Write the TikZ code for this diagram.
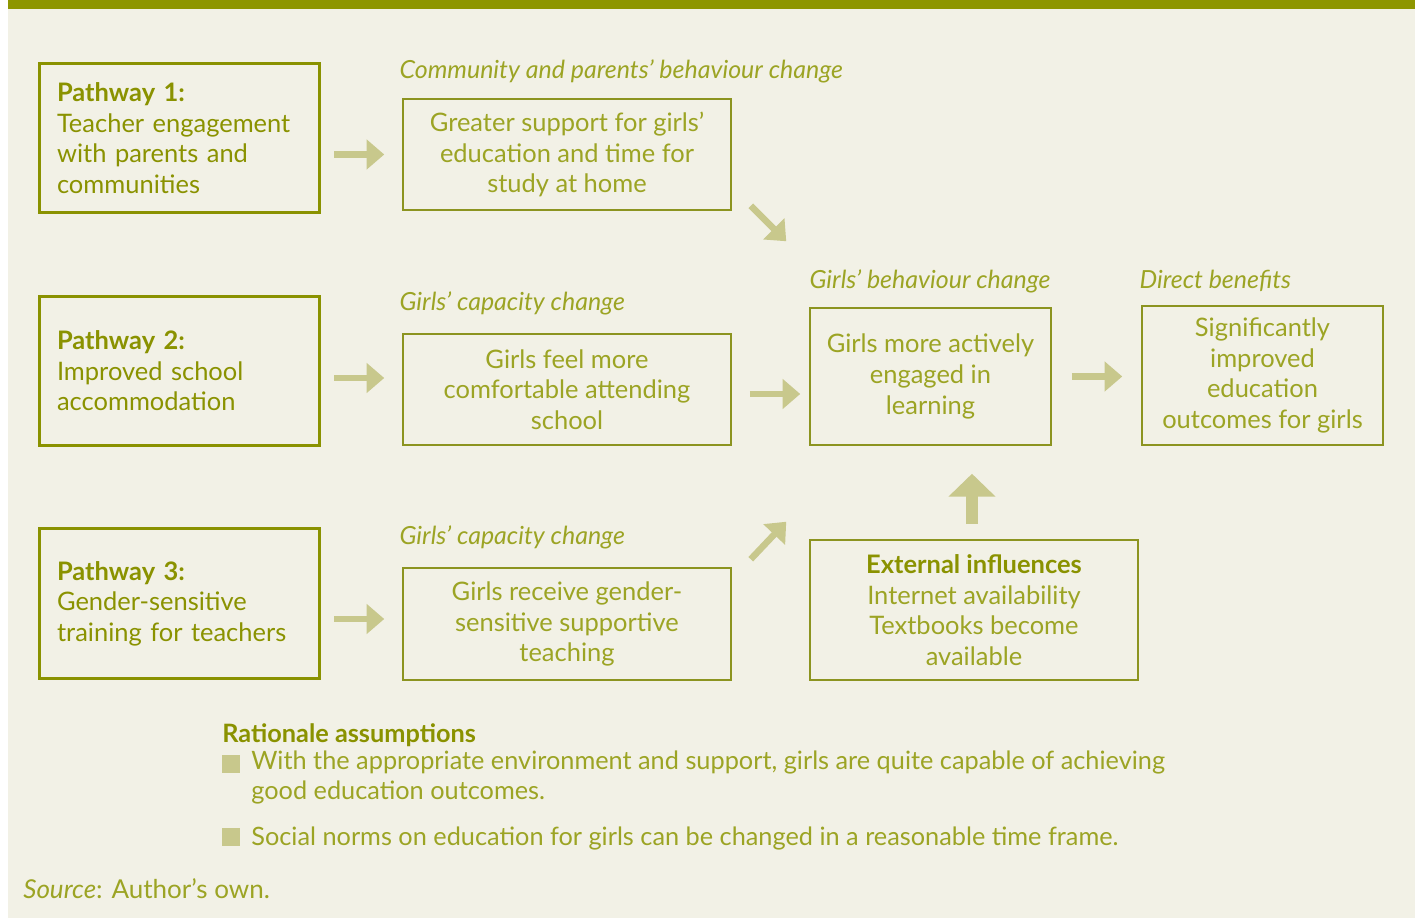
\documentclass[tikz,border=0pt]{standalone}
\usepackage{fontspec}
\setmainfont{Lato}
\usetikzlibrary{positioning, arrows.meta}

\definecolor{paper}{RGB}{242,241,230}
\definecolor{barolive}{RGB}{142,150,0}
\definecolor{darkolive}{RGB}{138,146,0}
\definecolor{lightolive}{RGB}{156,164,36}
\definecolor{arrowtan}{RGB}{200,200,140}

\tikzset{
	pathway/.style={draw=darkolive, line width=1.7pt, text=darkolive, align=left,
		text width=4.9cm, inner xsep=0.36cm, minimum height=3cm,
		font=\fontsize{14.5}{17.4}\selectfont},
	stage/.style={draw=lightolive!90!black, line width=0.9pt, text=lightolive, align=center,
		inner sep=0pt, font=\fontsize{14.5}{17.4}\selectfont},
	tag/.style={text=lightolive, inner sep=0pt, font=\fontsize{14.2}{16}\selectfont\itshape},
	flow/.style={draw=arrowtan, line width=3.7pt, -{Triangle[width=16.5pt,length=10pt]}},
	bigflow/.style={draw=arrowtan, line width=6.5pt, -{Triangle[width=26pt,length=13pt]}},
	sq/.style={fill=arrowtan, minimum size=0.36cm, inner sep=0pt},
	note/.style={text=lightolive, inner sep=0pt, align=left, font=\fontsize{14.4}{17}\selectfont}
}

\begin{document}
\begin{tikzpicture}[x=0.02cm, y=-0.02cm]
		% page, panel and top bar
		\fill[white] (0,0) rectangle (1418,918);
		\fill[paper] (8,9) rectangle (1415,918);
		\fill[barolive] (8,0) rectangle (1415,9);
		\useasboundingbox (0,0) rectangle (1418,918);
		
		% pathways
		\node[pathway] (p1) at (179.5,138) {\textbf{Pathway 1:}\\Teacher engagement\\with parents and\\communities};
		\node[pathway] (p2) at (179.5,371) {\textbf{Pathway 2:}\\Improved school\\accommodation};
		\node[pathway] (p3) at (179.5,603.5) {\textbf{Pathway 3:}\\Gender-sensitive\\training for teachers};
		
		% changes
		\node[stage, minimum width=6.56cm, minimum height=2.22cm] (home) at (567,154.5) {Greater support for girls'\\education and time for\\study at home};
		\node[stage, minimum width=6.56cm, minimum height=2.22cm] (comfort) at (567,389.5) {Girls feel more\\comfortable attending\\school};
		\node[stage, minimum width=6.56cm, minimum height=2.24cm] (teach) at (567,624) {Girls receive gender-\\sensitive supportive\\teaching};
		\node[stage, minimum width=4.82cm, minimum height=2.74cm] (engaged) at (930.5,376.5) {Girls more actively\\engaged in\\learning};
		\node[stage, minimum width=4.82cm, minimum height=2.78cm] (outcome) at (1262.5,375.5) {Significantly\\improved\\education\\outcomes for girls};
		\node[stage, minimum width=6.56cm, minimum height=2.8cm] (ext) at (974,610) {\textbf{\textcolor{darkolive}{External influences}}\\Internet availability\\Textbooks become\\available};
		
		\node[tag, above right=0.3cm and -0.06cm of home.north west] (tag1) {Community and parents' behaviour change};
		\node[tag, above right=0.36cm and -0.06cm of comfort.north west] (tag2) {Girls' capacity change};
		\node[tag, above right=0.36cm and -0.06cm of teach.north west] (tag3) {Girls' capacity change};
		\node[tag, above right=0.28cm and 0cm of engaged.north west] (tag4) {Girls' behaviour change};
		\node[tag, above right=0.26cm and -0.04cm of outcome.north west] (tag5) {Direct benefits};
		
		% arrows
		\draw[flow, shorten <=0.26cm, shorten >=0.36cm] (p1.east |- home.west) -- (home.west);
		\draw[flow, shorten <=0.26cm, shorten >=0.36cm] ([yshift=-0.14cm]p2.east) -- ([yshift=-0.14cm]p2.east -| comfort.west);
		\draw[flow, shorten <=0.26cm, shorten >=0.36cm] ([yshift=-0.31cm]p3.east) -- ([yshift=-0.31cm]p3.east -| teach.west);
		\draw[flow, shorten <=0.36cm, shorten >=0.18cm] ([yshift=-0.09cm]comfort.east) -- ([yshift=-0.09cm]comfort.east -| engaged.west);
		\draw[flow, shorten <=0.4cm, shorten >=0.38cm] (engaged.east) -- (engaged.east -| outcome.west);
		\draw[flow] ([xshift=0.38cm,yshift=0.1cm]home.south east) -- ([xshift=-0.46cm,yshift=1.32cm]engaged.north west);
		\draw[flow] ([xshift=0.38cm,yshift=0.16cm]teach.north east) -- ([xshift=-0.46cm,yshift=-1.52cm]engaged.south west);
		\draw[bigflow, shorten <=0.3cm, shorten >=0.56cm] ([xshift=-0.04cm]ext.north) -- ([xshift=-0.04cm]ext.north |- engaged.south);
		
		% assumptions and source
		\node[note, anchor=west, text=darkolive] (rat) at (222,735) {\textbf{Rationale assumptions}};
		\node[sq] (b1) at (231,764) {};
		\node[sq] (b2) at (231,837) {};
		\node[note, anchor=north west] (a1) at (251,751) {With the appropriate environment and support, girls are quite capable of achieving\\good education outcomes.};
		\node[note, anchor=west] (a2) at (251,838) {Social norms on education for girls can be changed in a reasonable time frame.};
		\node[note, anchor=west, font=\fontsize{14.8}{17}\selectfont] (src) at (23,889) {\textit{Source}: Author's own.};
\end{tikzpicture}
\end{document}
